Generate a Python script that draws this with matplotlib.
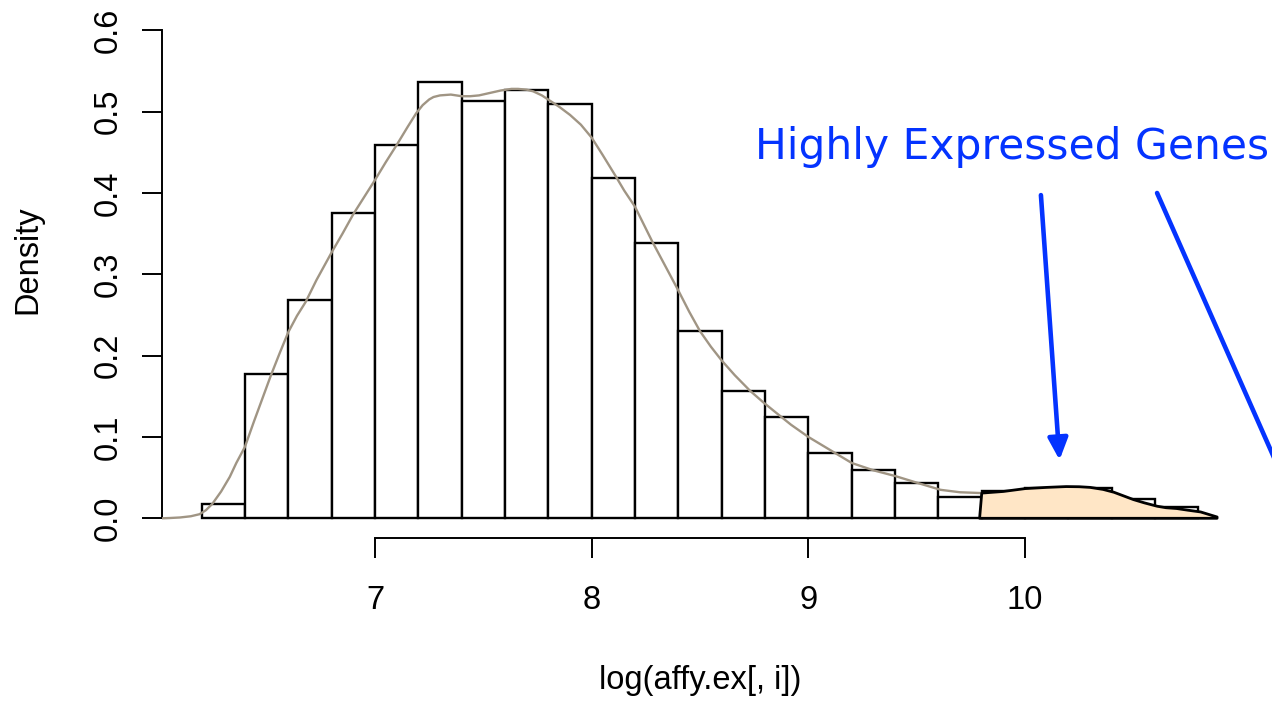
import numpy as np
import matplotlib
matplotlib.use("Agg")
import matplotlib.pyplot as plt
from matplotlib.patches import Polygon

# Histogram of log expression values (density scale, bin width 0.2)
bin_edges = [6.2, 6.4, 6.6, 6.8, 7.0, 7.2, 7.4, 7.6, 7.8, 8.0, 8.2, 8.4,
             8.6, 8.8, 9.0, 9.2, 9.4, 9.6, 9.8, 10.0, 10.2, 10.4, 10.6, 10.8]
bin_density = [0.017, 0.177, 0.269, 0.375, 0.459, 0.536, 0.513, 0.527,
               0.510, 0.419, 0.338, 0.230, 0.157, 0.125, 0.080, 0.059,
               0.043, 0.026, 0.034, 0.037, 0.037, 0.024, 0.014]

# Kernel density estimate of the same values
kde_x = [6.015, 6.05, 6.10, 6.15, 6.19, 6.22, 6.25, 6.29, 6.33, 6.36, 6.40,
         6.44, 6.48, 6.52, 6.56, 6.60, 6.64, 6.68, 6.73, 6.80, 6.85, 6.90,
         6.95, 7.00, 7.05, 7.10, 7.15, 7.19, 7.22, 7.25, 7.27, 7.30, 7.35,
         7.40, 7.44, 7.48, 7.53, 7.58, 7.63, 7.66, 7.70, 7.73, 7.77, 7.81,
         7.85, 7.90, 7.95, 8.00, 8.05, 8.11, 8.15, 8.20, 8.28, 8.34, 8.40,
         8.45, 8.50, 8.55, 8.60, 8.66, 8.73, 8.79, 8.85, 8.92, 9.00, 9.10,
         9.20, 9.30, 9.40, 9.51, 9.61, 9.70, 9.80, 9.90, 10.00, 10.10,
         10.19, 10.25, 10.30, 10.36, 10.41, 10.46, 10.50, 10.55, 10.61,
         10.65, 10.70, 10.75, 10.81, 10.886]
kde_y = [0.000, 0.0003, 0.001, 0.0025, 0.005, 0.010, 0.018, 0.033, 0.051,
         0.068, 0.088, 0.118, 0.147, 0.176, 0.203, 0.229, 0.249, 0.266,
         0.293, 0.327, 0.350, 0.374, 0.395, 0.416, 0.438, 0.459, 0.481,
         0.498, 0.508, 0.515, 0.518, 0.520, 0.521, 0.519, 0.519, 0.520,
         0.523, 0.526, 0.528, 0.528, 0.527, 0.525, 0.520, 0.513, 0.506,
         0.496, 0.484, 0.468, 0.447, 0.421, 0.403, 0.383, 0.340, 0.310,
         0.280, 0.254, 0.230, 0.211, 0.194, 0.176, 0.157, 0.143, 0.130,
         0.115, 0.100, 0.084, 0.068, 0.059, 0.052, 0.043, 0.035, 0.032,
         0.031, 0.033, 0.0365, 0.038, 0.039, 0.0388, 0.038, 0.0355, 0.032,
         0.027, 0.023, 0.019, 0.0148, 0.013, 0.012, 0.010, 0.0078, 0.0016]

high_cut = 9.8
x_ticks = [7, 8, 9, 10]
y_ticks = [0.0, 0.1, 0.2, 0.3, 0.4, 0.5, 0.6]
y_tick_labels = ["0.0", "0.1", "0.2", "0.3", "0.4", "0.5", "0.6"]

W, H = 1272, 701
fig = plt.figure(figsize=(W / 100, H / 100), dpi=100)

# plot region in pixels
left_px, right_px = 161.55, 1241.8
bottom_px, top_px = 538.3, 0.0
ax = fig.add_axes([left_px / W, 1 - bottom_px / H,
                   (right_px - left_px) / W, (bottom_px - top_px) / H])
ax.set_xlim(6.015, 11.0)
ax.set_ylim(-0.0246, 0.6373)

# histogram bars
edges = np.array(bin_edges)
ax.bar(edges[:-1], bin_density, width=np.diff(edges), align="edge",
       facecolor="white", edgecolor="black", linewidth=1.7, zorder=2)

# density curve up to the highlighted tail
kx = np.array(kde_x)
ky = np.array(kde_y)
low = kx <= high_cut
ax.plot(kx[low], ky[low], color="#a09584", linewidth=1.7, zorder=3,
        solid_capstyle="round", solid_joinstyle="round")

# shaded tail of highly expressed genes
hi = kx >= high_cut
verts = [(high_cut - 0.01, 0.0)] + list(zip(kx[hi], ky[hi])) + [(kx[hi][-1], 0.0)]
ax.add_patch(Polygon(verts, closed=True, facecolor="#ffe6c6",
                     edgecolor="black", linewidth=2.0, zorder=4,
                     joinstyle="round"))

# axes in base-graphics style
for s in ("top", "right"):
    ax.spines[s].set_visible(False)
ax.spines["left"].set_bounds(0.0, 0.6)
ax.spines["bottom"].set_bounds(7, 10)
for s in ("left", "bottom"):
    ax.spines[s].set_linewidth(1.4)
ax.set_xticks(x_ticks)
ax.set_xticklabels([str(t) for t in x_ticks])
ax.set_yticks(y_ticks)
ax.set_yticklabels(y_tick_labels)
ax.tick_params(axis="both", direction="out", length=14.4, width=1.4,
               labelsize=23.5)
ax.tick_params(axis="x", pad=19)
ax.tick_params(axis="y", pad=13)
for lab in ax.get_xticklabels() + ax.get_yticklabels():
    lab.set_fontfamily("Liberation Sans")
plt.setp(ax.get_yticklabels(), rotation=90, va="center")

# axis titles
fig.text(28 / W, 1 - 260 / H, "Density", rotation=90, ha="center",
         va="center", fontsize=23.5, family="Liberation Sans")
fig.text(700 / W, 1 - 680 / H, "log(affy.ex[, i])", ha="center",
         va="center", fontsize=23.5, family="Liberation Sans")

# annotation
blue = "#0433ff"
arrow_style = "-|>,head_length=0.65,head_width=0.3"
ax.text(8.7536, 0.4418, "Highly Expressed Genes", color=blue,
        fontsize=30.5, family="DejaVu Sans", ha="left", va="baseline")
ax.annotate("", xy=(10.159, 0.0717), xytext=(10.073, 0.3974),
            arrowprops=dict(arrowstyle=arrow_style, color=blue,
                            linewidth=3.3, shrinkA=0, shrinkB=0,
                            mutation_scale=20),
            annotation_clip=False, zorder=6)
ax.annotate("", xy=(11.276, -0.0022), xytext=(10.609, 0.400),
            arrowprops=dict(arrowstyle=arrow_style, color=blue,
                            linewidth=3.3, shrinkA=0, shrinkB=0,
                            mutation_scale=20),
            annotation_clip=False, zorder=6)

fig.savefig("out.png", dpi=100)
